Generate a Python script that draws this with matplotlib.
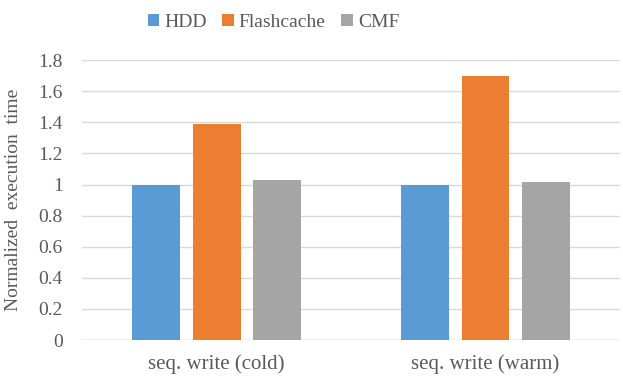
import numpy as np
import matplotlib.pyplot as plt

categories = ['seq. write (cold)', 'seq. write (warm)']
series = ['HDD', 'Flashcache', 'CMF']
hdd = [1.0, 1.0]
flashcache = [1.386, 1.697]
cmf = [1.03, 1.013]
yticks = [0, 0.2, 0.4, 0.6, 0.8, 1, 1.2, 1.4, 1.6, 1.8]
ytick_labels = ['0', '0.2', '0.4', '0.6', '0.8', '1', '1.2', '1.4', '1.6', '1.8']

colors = ['#5b9bd5', '#ed7d31', '#a5a5a5']
text_color = '#595959'
plt.rcParams['font.family'] = ['Liberation Serif', 'DejaVu Serif']

fig = plt.figure(figsize=(6.23, 3.78), dpi=100)
ax = fig.add_axes([0.132, 0.1005, 0.863, 0.7405])

x = np.arange(len(categories))
offsets = [-0.225, 0, 0.225]
for vals, off, c, name in zip([hdd, flashcache, cmf], offsets, colors, series):
    ax.bar(x + off, vals, width=0.178, color=c, label=name, zorder=3)

ax.set_xlim(-0.5, 1.5)
ax.set_ylim(0, 1.8)
ax.set_yticks(yticks)
ax.set_yticklabels(ytick_labels)
ax.set_xticks(x)
ax.set_xticklabels(categories)
ax.grid(axis='y', color='#d9d9d9', linewidth=1, zorder=0)
for s in ax.spines.values():
    s.set_visible(False)
ax.axhline(0, color='#d9d9d9', linewidth=1, zorder=2)
ax.tick_params(axis='both', length=0, colors=text_color)
ax.tick_params(axis='y', pad=14, labelsize=14)
ax.tick_params(axis='x', pad=10, labelsize=15)
ax.set_ylabel('Normalized  execution  time', fontsize=14, color=text_color, labelpad=0)
ax.yaxis.set_label_coords(-0.112, 0.5)

leg = fig.legend(loc='upper center', bbox_to_anchor=(0.439, 1.01), ncol=3, frameon=False,
                 fontsize=14, handlelength=0.6, handleheight=0.6, handletextpad=0.25,
                 columnspacing=0.8, labelcolor=text_color)

fig.savefig('out.png', dpi=100)
